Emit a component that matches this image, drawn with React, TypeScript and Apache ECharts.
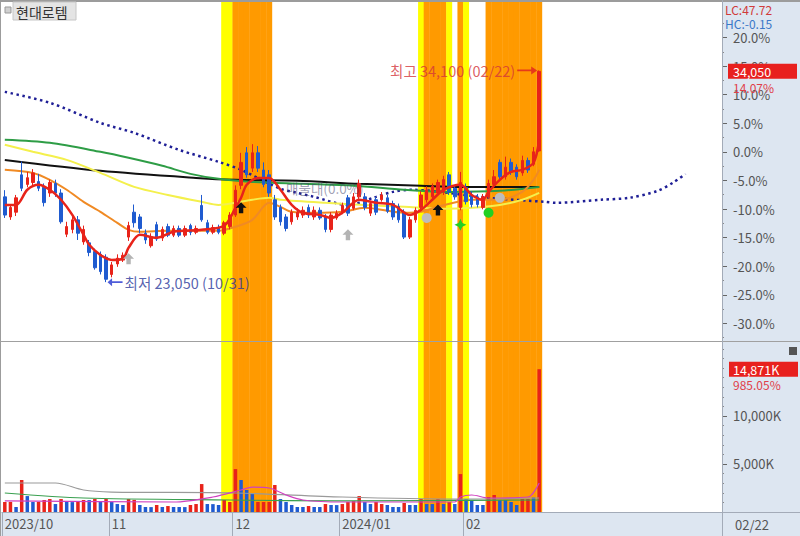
import React, { useEffect, useRef } from "react";
import * as echarts from "echarts";

const FONT = '"Noto Sans CJK KR", "Noto Sans", sans-serif';

const stockName = "현대로템";
const prevClose = 29850;
const statLC = "LC:47.72";
const statHC = "HC:-0.15";
const volRatioLabel = "985.05%";
const profileLabel = "매물대(0.0%)";
const profilePoint = [50, 27970];

const dates = [
  "2023-10-04", "2023-10-05", "2023-10-06", "2023-10-10", "2023-10-11", "2023-10-12", "2023-10-13",
  "2023-10-16", "2023-10-17", "2023-10-18", "2023-10-19", "2023-10-20",
  "2023-10-23", "2023-10-24", "2023-10-25", "2023-10-26", "2023-10-27", "2023-10-30", "2023-10-31",
  "2023-11-01", "2023-11-02", "2023-11-03", "2023-11-06", "2023-11-07", "2023-11-08", "2023-11-09", "2023-11-10",
  "2023-11-13", "2023-11-14", "2023-11-15", "2023-11-16", "2023-11-17", "2023-11-20", "2023-11-21", "2023-11-22",
  "2023-11-23", "2023-11-24", "2023-11-27", "2023-11-28", "2023-11-29", "2023-11-30",
  "2023-12-01", "2023-12-04", "2023-12-05", "2023-12-06", "2023-12-07", "2023-12-08", "2023-12-11", "2023-12-12",
  "2023-12-13", "2023-12-14", "2023-12-15", "2023-12-18", "2023-12-19", "2023-12-20", "2023-12-21", "2023-12-22",
  "2023-12-26", "2023-12-27", "2023-12-28",
  "2024-01-02", "2024-01-03", "2024-01-04", "2024-01-05", "2024-01-08", "2024-01-09", "2024-01-10", "2024-01-11",
  "2024-01-12", "2024-01-15", "2024-01-16", "2024-01-17", "2024-01-18", "2024-01-19", "2024-01-22", "2024-01-23",
  "2024-01-24", "2024-01-25", "2024-01-26", "2024-01-29", "2024-01-30", "2024-01-31",
  "2024-02-01", "2024-02-02", "2024-02-05", "2024-02-06", "2024-02-07", "2024-02-08", "2024-02-13", "2024-02-14",
  "2024-02-15", "2024-02-16", "2024-02-19", "2024-02-20", "2024-02-21", "2024-02-22",
];
const futureSlots = 32;

const opens = [
  27500, 26450, 26700, 28650, 28150, 28250, 28300, 28000, 27700, 28200,
  27700, 25550, 25800, 26300, 25150, 25100, 24650, 24500, 24350, 23450,
  24000, 24200, 25400, 26700, 26450, 25600, 24950, 26050, 25350, 25950,
  25500, 25850, 25500, 26000, 25650, 27050, 26150, 25650, 25900, 25600,
  25950, 26550, 28100, 29800, 29000, 29800, 28900, 28650, 27350, 26950,
  26450, 26200, 26450, 26550, 26950, 26450, 26800, 26450, 25800, 26400,
  26700, 27450, 26900, 27500, 27500, 26650, 27350, 27350, 27450, 27150,
  27000, 26700, 25400, 26300, 26950, 27350, 27500, 27700, 27750, 28650,
  27950, 26950, 28000, 27600, 27500, 26950, 27500, 28150, 29300, 28550,
  29300, 29050, 28750, 29400, 29200, 29900,
];
const closes = [
  26550, 26950, 27450, 27950, 28500, 28750, 27950, 27200, 28250, 27700,
  26200, 25950, 26300, 25600, 25800, 24600, 23800, 23600, 23200, 23950,
  24300, 24450, 26000, 26150, 25850, 25250, 25400, 25300, 25800, 25500,
  25850, 25500, 25850, 25650, 25850, 26300, 25650, 25900, 25650, 26150,
  26550, 27850, 29300, 28650, 29800, 29000, 28150, 27700, 26450, 26200,
  25850, 26700, 26700, 26800, 26550, 26800, 26400, 25800, 26550, 26650,
  27050, 26650, 27500, 28200, 26950, 27150, 26700, 27600, 26750, 26450,
  26300, 25400, 26300, 26800, 27600, 27850, 28050, 28250, 28400, 27750,
  27500, 28250, 27250, 27100, 27100, 27500, 28200, 28550, 28550, 29050,
  28800, 28550, 29400, 28900, 29850, 34050,
];
const lows = [
  26400, 26300, 26500, 27800, 28000, 28100, 27800, 27000, 27500, 27500,
  26100, 25400, 25600, 25250, 25000, 24400, 23700, 23450, 23050, 23300,
  23850, 24100, 25200, 25900, 25600, 25050, 24850, 25200, 25200, 25400,
  25400, 25400, 25400, 25500, 25550, 26200, 25550, 25550, 25550, 25500,
  25800, 26450, 27900, 28500, 28800, 28800, 28000, 27500, 26300, 26000,
  25700, 26050, 26300, 26400, 26400, 26300, 26300, 25650, 25650, 26300,
  26600, 26500, 26800, 27350, 26800, 26500, 26550, 27250, 26650, 26300,
  26150, 25300, 25300, 26150, 26850, 27200, 27400, 27550, 27600, 27600,
  27350, 26800, 27100, 26950, 26950, 26850, 27400, 28000, 28400, 28400,
  28650, 28400, 28600, 28750, 29100, 29850,
];
const highs = [
  27850, 27100, 27600, 29350, 28800, 28950, 28700, 28200, 28400, 28400,
  27900, 26200, 26500, 26500, 26000, 25250, 24800, 24650, 24500, 24100,
  24500, 24600, 26200, 27100, 26600, 25800, 25600, 26200, 25950, 26100,
  26000, 26000, 26000, 26100, 26000, 27600, 26300, 26050, 26050, 26250,
  26700, 28100, 29800, 30100, 30250, 30150, 29300, 28900, 27600, 27100,
  26600, 26850, 26900, 27000, 27100, 27000, 26950, 26600, 26700, 26800,
  27200, 27600, 27700, 28400, 27700, 27300, 27500, 27750, 27600, 27300,
  27150, 26850, 26450, 26950, 27800, 28050, 28200, 28400, 28600, 28800,
  28100, 28800, 28200, 27800, 27650, 27650, 28400, 28900, 29450, 29600,
  29500, 29200, 29650, 29550, 30100, 34100,
];

// volume, thousand shares
const volumes = [
  1040, 1050, 520, 3330, 1660, 1040, 1060, 1250, 1350, 830,
  1350, 1040, 1030, 1050, 1250, 1240, 1350, 1040, 1350, 1040,
  830, 730, 1350, 1260, 730, 520, 510, 730, 520, 620,
  520, 520, 510, 730, 830, 2910, 830, 820, 730, 1250,
  1040, 4470, 3330, 2290, 1870, 1040, 1040, 1040, 2810, 1350,
  1040, 730, 520, 520, 620, 520, 520, 830, 730, 720,
  830, 1040, 1140, 1660, 1040, 830, 1040, 830, 730, 520,
  520, 940, 730, 730, 1350, 830, 830, 1350, 830, 1040,
  830, 3950, 1350, 1250, 730, 730, 1560, 1770, 1250, 1250,
  1040, 730, 1350, 1350, 1510, 14871,
];
// R = red volume bar, B = blue volume bar
const volumeColors =
  "RRBRBBRRRB" + "RBBRRBRBRB" + "BBRRBBBRBR" + "BBBRRRBBBR" + "RRBBBRRRRB" +
  "BBBBRBBRBB" + "RRRRBBRRBB" + "BRBBRBBRBR" + "BRBBBBRRBB" + "BBRRBR";
// Y = yellow band, O = orange band, . = none
const bands =
  "......................................." + "YY" + "OOOOOOO" +
  ".........................." + "Y" + "OOOO" + "Y" + "." + "O" + "Y" + "..." + "OOOOOOOOOO";

const pctTicks = [20, 15, 10, 5, 0, -5, -10, -15, -20, -25, -30];
const pctRange = [-32.9, 26.2];
const volTicks = [5000, 10000];
const volMax = 17600;

// moving averages read at sample days: [dayIndex, price]
const maBlack = [[0, 29430], [17, 28860], [34, 28490], [41, 28390], [52, 28340], [63, 28180], [74, 28080], [81, 28020], [95, 28020]];
const maGreen = [[0, 30480], [8, 30320], [17, 29850], [22, 29540], [28, 29120], [33, 28700], [38, 28440], [44, 28280], [53, 28180], [62, 28080], [71, 27870], [79, 27760], [88, 27820], [95, 28020]];
const maYellow = [[0, 30220], [5, 29850], [11, 29430], [17, 28750], [23, 28020], [29, 27600], [35, 27240], [38, 27080], [41, 27190], [44, 27350], [47, 27450], [49, 27350], [57, 27190], [64, 27080], [71, 26980], [78, 26880], [83, 26930], [88, 27080], [92, 27350], [95, 27710]];
const maOrange = [[0, 28910], [5, 28750], [8, 28390], [11, 27870], [14, 27240], [17, 26720], [20, 26140], [22, 25780], [24, 25680], [29, 25730], [38, 25730], [41, 25940], [44, 26300], [47, 27190], [49, 26980], [51, 26720], [55, 26670], [60, 26720], [64, 26930], [71, 26670], [74, 26720], [77, 26980], [83, 27350], [88, 27350], [92, 27760], [94, 28390], [95, 28910]];
const maRed = [[0, 27080], [2, 27080], [4, 27870], [6, 28130], [8, 27870], [10, 27350], [12, 26560], [14, 25520], [15, 25000], [17, 24470], [19, 24210], [21, 24270], [22, 24840], [24, 25520], [27, 25360], [30, 25680], [35, 25780], [39, 25990], [41, 26920], [42, 27450], [43, 28130], [45, 28490], [47, 28490], [49, 27870], [51, 27080], [53, 26670], [56, 26560], [58, 26400], [60, 26670], [63, 27350], [66, 27190], [69, 27080], [72, 26560], [74, 26820], [76, 27350], [78, 27870], [81, 28130], [83, 27600], [85, 27350], [86, 27760], [88, 28390], [90, 28800], [92, 28910], [94, 29280], [95, 30480]];
const leadLine = [[0, 32980], [8, 32410], [17, 31360], [23, 30840], [31, 29950], [38, 29330], [42, 28910], [49, 27920], [52, 27710], [55, 27500], [61, 27080], [66, 27500], [69, 27760], [72, 27870], [86, 27450], [96, 27240], [98, 27190], [106, 27350], [111, 27450], [116, 27810], [119, 28280], [121, 28700]];

const volMaGray = [[0, 3020], [9, 3020], [14, 2290], [19, 2080], [41, 1980], [60, 1560], [81, 1350], [95, 1460]];
const volMaGreen = [[0, 1980], [14, 1460], [40, 1250], [60, 1150], [95, 1250]];
const volMaPink = [[0, 1150], [30, 1040], [37, 1560], [42, 2290], [44, 2600], [47, 2500], [50, 1770], [53, 1250], [60, 1040], [80, 1040], [81, 1560], [83, 1770], [86, 1460], [93, 1560], [95, 3020]];

// signal markers: [dayIndex, price]
const sigBlackUp = [[42, 26930], [77, 26820]];
const sigGrayUp = [[22, 24270], [61, 25520]];
const sigGrayDot = [[75, 26400], [88, 27450]];
const sigGreenStar = [[81, 26040]];
const sigGreenDot = [[86, 26670]];

const RED = "#e8231a";
const BLUE = "#1f5bd0";
const AXIS_BG = "#dde6f1";
const LINE_GRAY = "#a3abb8";

const fmtNum = (v: number) => v.toLocaleString("en-US");
const toPrice = (p: number) => prevClose * (1 + p / 100);
const mmdd = (d: string) => d.slice(5, 7) + "/" + d.slice(8, 10);
const isMonthStart = (i: number) =>
  i < dates.length && (i === 0 || dates[i].slice(0, 7) !== dates[i - 1].slice(0, 7));

export default function App() {
  const ref = useRef<HTMLDivElement>(null);

  useEffect(() => {
    const chart = echarts.init(ref.current!, null, { renderer: "svg" });
    const cats = [...dates, ...Array.from({ length: futureSlots }, () => "")];
    const candles = dates.map((_, i) => [opens[i], closes[i], lows[i], highs[i]]);
    const lowVal = Math.min(...lows);
    const lowIdx = lows.indexOf(lowVal);
    const highVal = Math.max(...highs);
    const highIdx = highs.indexOf(highVal);
    const minorPct: number[] = [pctTicks[0] + 2.5, ...pctTicks.map((p) => p - 2.5)];
    const volMinor: number[] = [];
    for (let v = 1000; v < volMax; v += 1000) if (!volTicks.includes(v)) volMinor.push(v);

    const line = (data: number[][], color: string, width: number, extra: any = {}) => ({
      type: "line",
      xAxisIndex: 0,
      yAxisIndex: 0,
      data,
      symbol: "none",
      smooth: 0.3,
      silent: true,
      lineStyle: { color, width, ...extra },
      z: 3,
    });
    const vline = (data: number[][], color: string, width: number) => ({
      type: "line",
      xAxisIndex: 1,
      yAxisIndex: 2,
      data,
      symbol: "none",
      smooth: 0.3,
      silent: true,
      lineStyle: { color, width },
      z: 3,
    });
    const marker = (data: number[][], symbol: string, color: string, size: number) => ({
      type: "scatter",
      xAxisIndex: 0,
      yAxisIndex: 0,
      data,
      symbol,
      symbolSize: size,
      itemStyle: { color, opacity: 1 },
      silent: true,
      z: 6,
    });

    const option: any = {
      animation: false,
      backgroundColor: "#ffffff",
      textStyle: { fontFamily: FONT },
      grid: [
        { left: 2, right: 78, top: 2, height: 338 },
        { left: 2, right: 78, top: 343, height: 169 },
        { left: 2, right: 78, top: 2, height: 510 },
      ],
      xAxis: [
        { type: "category", gridIndex: 0, data: cats, boundaryGap: true, show: false },
        {
          type: "category",
          gridIndex: 1,
          data: cats,
          boundaryGap: true,
          z: 10,
          axisLine: { show: true, lineStyle: { color: LINE_GRAY } },
          axisTick: {
            show: true,
            length: 24,
            interval: (i: number) => isMonthStart(i),
            lineStyle: { color: LINE_GRAY },
          },
          axisLabel: {
            interval: (i: number) => isMonthStart(i),
            formatter: (v: string, i: number) => {
              if (i === 0 || v.slice(5, 7) === "01") return v.slice(0, 4) + "/" + v.slice(5, 7);
              return v.slice(5, 7);
            },
            align: "left",
            color: "#555",
            fontSize: 13,
            margin: 5,
            fontFamily: FONT,
          },
          splitLine: { show: false },
        },
        { type: "category", gridIndex: 2, data: cats, boundaryGap: true, show: false },
      ],
      yAxis: [
        {
          type: "value",
          gridIndex: 0,
          position: "right",
          min: toPrice(pctRange[0]),
          max: toPrice(pctRange[1]),
          z: 10,
          splitLine: { show: false },
          axisLine: { show: true, lineStyle: { color: LINE_GRAY } },
          axisTick: { show: true, length: 5, customValues: pctTicks.map(toPrice), lineStyle: { color: "#666" } },
          axisLabel: {
            customValues: pctTicks.map(toPrice),
            formatter: (v: number) => ((v / prevClose - 1) * 100).toFixed(1) + "%",
            color: "#555",
            fontSize: 13,
            margin: 11,
            fontFamily: FONT,
          },
        },
        {
          type: "value",
          gridIndex: 0,
          position: "right",
          min: toPrice(pctRange[0]),
          max: toPrice(pctRange[1]),
          z: 10,
          splitLine: { show: false },
          axisLine: { show: false },
          axisTick: { show: true, length: 2, customValues: minorPct.map(toPrice), lineStyle: { color: "#888" } },
          axisLabel: { show: false },
        },
        {
          type: "value",
          gridIndex: 1,
          position: "right",
          min: 0,
          max: volMax,
          z: 10,
          splitLine: { show: false },
          axisLine: { show: true, lineStyle: { color: LINE_GRAY } },
          axisTick: { show: true, length: 5, customValues: volTicks, lineStyle: { color: "#666" } },
          axisLabel: {
            customValues: volTicks,
            formatter: (v: number) => fmtNum(v) + "K",
            color: "#555",
            fontSize: 13,
            margin: 11,
            fontFamily: FONT,
          },
        },
        {
          type: "value",
          gridIndex: 1,
          position: "right",
          min: 0,
          max: volMax,
          z: 10,
          splitLine: { show: false },
          axisLine: { show: false },
          axisTick: { show: true, length: 2, customValues: volMinor, lineStyle: { color: "#888" } },
          axisLabel: { show: false },
        },
        { type: "value", gridIndex: 2, min: 0, max: 1, show: false },
      ],
      series: [
        {
          type: "bar",
          xAxisIndex: 2,
          yAxisIndex: 4,
          barWidth: 6,
          silent: true,
          z: 1,
          data: bands.split("").map((ch) =>
            ch === "."
              ? "-"
              : { value: 1, itemStyle: { color: ch === "Y" ? "#ffff00" : "#ff9a00" } }
          ),
        },
        line(leadLine, "#1f1f96", 2.5, { type: [2.5, 3.5], cap: "butt" }),
        line(maBlack, "#111111", 2),
        line(maGreen, "#2e9d46", 2),
        line(maYellow, "#f4f04c", 2),
        line(maOrange, "#f08a24", 2),
        {
          type: "candlestick",
          xAxisIndex: 0,
          yAxisIndex: 0,
          data: candles,
          barWidth: 3,
          silent: true,
          z: 4,
          itemStyle: { color: RED, color0: BLUE, borderColor: RED, borderColor0: BLUE, borderWidth: 1 },
        },
        { ...line(maRed, "#e8231a", 2.5), z: 5 },
        marker(sigBlackUp, "path://M5,0L10,5L7,5L7,10L3,10L3,5L0,5Z", "#111111", 11),
        marker(sigGrayUp, "path://M5,0L10,5L7,5L7,10L3,10L3,5L0,5Z", "#b4b4b4", 11),
        marker(sigGrayDot, "circle", "#bdbdbd", 10),
        marker(sigGreenStar, "path://M5,0L6.6,3.4L10,5L6.6,6.6L5,10L3.4,6.6L0,5L3.4,3.4Z", "#22d022", 12),
        marker(sigGreenDot, "circle", "#22d022", 10),
        {
          type: "scatter",
          xAxisIndex: 0,
          yAxisIndex: 0,
          silent: true,
          z: 7,
          data: [
            {
              value: [lowIdx, lowVal],
              symbol: "path://M0,5L6,0L6,3.8L20,3.8L20,6.2L6,6.2L6,10Z",
              symbolSize: [15, 8],
              symbolOffset: [9, 0],
              itemStyle: { color: "#2233d0" },
              label: {
                show: true,
                position: "right",
                distance: 2,
                formatter: `최저 ${fmtNum(lowVal)} (${mmdd(dates[lowIdx])})`,
                color: "#2b3a9c",
                fontSize: 14.5,
                fontFamily: FONT,
              },
            },
            {
              value: [highIdx, highVal],
              symbol: "path://M20,5L14,0L14,3.8L0,3.8L0,6.2L14,6.2L14,10Z",
              symbolSize: [20, 8],
              symbolOffset: [-12, 0],
              itemStyle: { color: "#e02020" },
              label: {
                show: true,
                position: "left",
                distance: 2,
                formatter: `최고 ${fmtNum(highVal)} (${mmdd(dates[highIdx])})`,
                color: "#d4353a",
                fontSize: 14.5,
                fontFamily: FONT,
              },
            },
            {
              value: profilePoint,
              symbol: "circle",
              symbolSize: 0,
              label: {
                show: true,
                position: "right",
                distance: 0,
                formatter: profileLabel,
                color: "rgba(70,70,110,0.65)",
                fontSize: 13.5,
                fontFamily: FONT,
              },
            },
          ],
        },
        {
          type: "bar",
          xAxisIndex: 1,
          yAxisIndex: 2,
          barWidth: 3.5,
          silent: true,
          z: 2,
          data: volumes.map((v, i) => ({
            value: v,
            itemStyle: { color: volumeColors[i] === "R" ? RED : BLUE },
          })),
        },
        vline(volMaGray, "#9a9a9a", 1.2),
        vline(volMaGreen, "#3aa050", 1.2),
        vline(volMaPink, "#d040c0", 1.2),
      ],
    };

    chart.setOption(option);

    const lastClose = closes[closes.length - 1];
    const lastVol = volumes[volumes.length - 1];
    const yClose = chart.convertToPixel({ yAxisIndex: 0 }, lastClose) as number;
    const yVol = chart.convertToPixel({ yAxisIndex: 2 }, lastVol) as number;
    const lastPct = ((lastClose / prevClose - 1) * 100).toFixed(2) + "%";

    const txt = (x: number, y: number, text: string, fill: string, size = 13, z = 60, extra: any = {}) => ({
      type: "text",
      x,
      y,
      z,
      silent: true,
      style: { text, fill, font: `${size}px ${FONT}`, verticalAlign: "middle", ...extra },
    });

    chart.setOption({
      graphic: [
        { type: "rect", z: 0, silent: true, shape: { x: 722, y: 0, width: 78, height: 536 }, style: { fill: AXIS_BG } },
        { type: "rect", z: 0, silent: true, shape: { x: 0, y: 512, width: 722, height: 24 }, style: { fill: AXIS_BG } },
        { type: "line", z: 50, silent: true, shape: { x1: 0, y1: 1, x2: 800, y2: 1 }, style: { stroke: "#9c9c9c", lineWidth: 2 } },
        { type: "line", z: 50, silent: true, shape: { x1: 0.5, y1: 0, x2: 0.5, y2: 536 }, style: { stroke: "#9c9c9c", lineWidth: 1 } },
        { type: "line", z: 50, silent: true, shape: { x1: 0, y1: 341.5, x2: 800, y2: 341.5 }, style: { stroke: "#a0a0a0", lineWidth: 1 } },
        { type: "line", z: 50, silent: true, shape: { x1: 722.5, y1: 0, x2: 722.5, y2: 536 }, style: { stroke: LINE_GRAY, lineWidth: 1 } },
        { type: "line", z: 50, silent: true, shape: { x1: 722, y1: 512.5, x2: 800, y2: 512.5 }, style: { stroke: LINE_GRAY, lineWidth: 1 } },
        { type: "rect", z: 60, silent: true, shape: { x: 5, y: 7, width: 6, height: 6 }, style: { fill: "#d0d0d0", stroke: "#999", lineWidth: 1 } },
        { type: "rect", z: 60, silent: true, shape: { x: 13, y: 2, width: 63, height: 18 }, style: { fill: "#e4e4e4", stroke: "#c6c6c6", lineWidth: 1 } },
        txt(16, 11.5, stockName, "#333333", 14),
        txt(725, 9, statLC, "#d03a3a", 12),
        txt(725, 23, statHC, "#3a78c8", 12),
        { type: "rect", z: 60, silent: true, shape: { x: 728, y: yClose - 7.5, width: 69, height: 15 }, style: { fill: "#e8201e" } },
        txt(733, yClose + 0.5, fmtNum(lastClose), "#ffffff", 12.5, 61),
        txt(733, yClose + 16, lastPct, "#e0404a", 12, 61),
        { type: "rect", z: 60, silent: true, shape: { x: 789, y: 347, width: 8, height: 8 }, style: { fill: "#555555" } },
        { type: "rect", z: 60, silent: true, shape: { x: 729, y: yVol - 7.5, width: 69, height: 15 }, style: { fill: "#e8201e" } },
        txt(733, yVol + 0.5, fmtNum(lastVol) + "K", "#ffffff", 12.5, 61),
        txt(733, yVol + 15.5, volRatioLabel, "#e0404a", 12, 61),
        txt(735, 524, mmdd(dates[dates.length - 1]), "#555555", 13),
      ],
    });

    return () => chart.dispose();
  }, []);

  return (
    <div
      ref={ref}
      style={{ position: "fixed", left: 0, top: 0, width: 800, height: 536 }}
    />
  );
}
